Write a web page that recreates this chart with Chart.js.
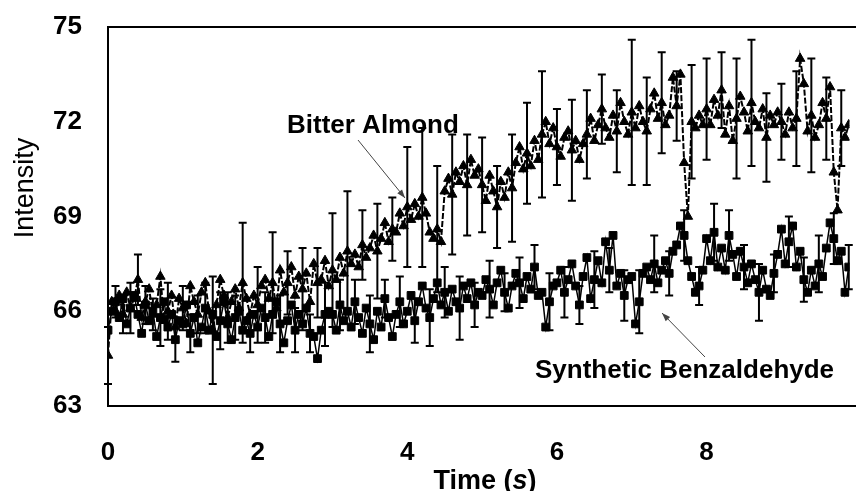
<!DOCTYPE html>
<html>
<head>
  <meta charset="UTF-8">
  <title>Intensity vs Time</title>
  <script src="https://cdn.jsdelivr.net/npm/chart.js"></script>
  <style>
    body { margin: 0; background: #fff; overflow: hidden; }
    canvas { display: block; }
  </style>
</head>
<body>
  <canvas id="chart" width="856" height="491"></canvas>

  <script>
    // sampling interval of both traces (s)
    const DT = 0.05;

    // Bitter Almond trace (triangles), one row per second
    const ALMOND = [
      64.6, 66.3, 66.0, 66.5, 65.9, 66.6, 66.1, 66.4, 67.0, 65.8, 66.3, 66.7, 65.9, 66.2, 67.1, 65.7, 66.0, 66.5, 65.5, 66.4,
      66.1, 65.6, 66.8, 66.3, 65.9, 66.6, 66.9, 66.0, 65.4, 66.2, 67.0, 66.5, 65.8, 66.3, 66.7, 66.1, 66.9, 66.4, 65.9, 66.5,
      66.2, 66.8, 67.0, 66.4, 66.9, 66.1, 67.3, 66.6, 66.9, 67.4, 66.5, 67.1, 66.7, 67.2, 66.3, 67.5, 66.9, 67.0, 67.6, 66.8,
      67.3, 67.0, 67.7, 67.2, 67.9, 67.5, 67.8, 67.4, 68.1, 67.7, 68.0, 68.4, 67.9, 68.3, 68.8, 68.2, 68.6, 68.5, 69.1, 68.7,
      69.3, 68.9, 69.4, 69.0, 69.6, 69.1, 68.5, 68.3, 68.6, 68.2, 69.8, 70.2, 69.7, 70.4, 70.1, 70.6, 70.0, 70.8, 70.3, 70.5,
      70.0, 69.5, 70.3, 69.8, 69.3, 70.1, 69.6, 70.4, 69.9, 70.7, 71.2, 70.5, 71.0, 70.6, 71.4, 70.8, 71.6, 72.0, 71.3, 71.8,
      71.2, 70.9, 71.5, 71.7, 71.1, 71.4, 70.8, 71.3, 71.6, 72.1, 71.4, 71.9, 72.4, 71.8, 71.5, 72.2, 71.7, 72.6, 72.0, 71.6,
      72.3, 71.8, 72.5, 72.0, 71.7, 72.4, 72.9, 72.1, 72.6, 71.9, 72.2, 73.4, 72.5, 73.5, 70.7, 69.0, 72.0, 71.8, 72.2, 71.9,
      72.4, 71.9, 72.7, 72.2, 73.0, 71.6, 72.5, 71.4, 72.1, 72.8, 72.3, 71.7, 72.6, 72.0, 71.8, 72.4, 71.5, 72.2, 71.9, 72.3,
      72.0, 71.6, 72.3, 71.8, 72.1, 74.0, 73.2, 71.7, 72.2, 71.5, 71.9, 72.6, 72.1, 73.1, 70.4, 69.2, 71.8, 71.5, 71.9
    ];

    // Synthetic Benzaldehyde trace (squares)
    const BENZ = [
      65.4, 66.0, 66.3, 65.8, 66.4, 65.6, 66.1, 66.5, 65.9, 65.3, 66.2, 65.7, 66.0, 65.2, 65.8, 66.3, 65.5, 65.9, 65.1, 65.7,
      65.6, 66.2, 65.3, 65.8, 65.0, 65.5, 66.1, 65.4, 65.9, 65.2, 65.7, 66.3, 65.6, 65.1, 65.8, 66.0, 65.4, 65.7, 65.3, 65.9,
      65.5, 66.1, 65.8, 65.2, 65.9, 66.3, 65.6, 65.0, 65.7, 66.2, 65.4, 65.9, 65.6, 66.1, 65.3, 65.2, 64.5, 65.4, 65.9, 66.0,
      65.9, 65.4, 66.2, 65.7, 66.0, 65.5, 66.3, 65.8, 65.3, 66.1, 65.6, 65.1, 66.0, 65.5, 66.4, 65.8, 65.2, 65.9, 66.3, 65.6,
      66.0, 66.5, 65.7, 66.3, 66.8, 66.1, 65.8, 66.4, 66.9, 66.2, 66.6, 66.0, 66.7, 66.3, 66.1, 66.8, 66.4, 66.9, 66.2, 66.6,
      66.5, 67.0, 66.7, 66.2, 66.9, 67.3, 66.6, 66.1, 66.8, 67.2, 66.9, 66.4, 67.1, 66.7, 67.4, 66.5, 66.6, 65.5, 66.3, 66.8,
      66.9, 67.3, 66.6, 67.0, 67.5, 66.8, 66.2, 67.1, 67.7, 66.4, 67.0, 67.6, 66.9, 68.2, 67.3, 68.4, 66.8, 67.2, 66.5, 67.0,
      67.1, 65.6, 66.3, 67.2, 67.4, 67.0, 67.5, 66.9, 67.3, 67.6, 67.2, 67.9, 68.1, 68.7, 68.4, 67.6, 67.1, 66.6, 66.8, 67.3,
      68.3, 67.6, 68.5, 67.4, 68.0, 67.3, 68.4, 67.8, 67.1, 67.9, 67.4, 66.9, 67.5, 67.0, 66.6, 67.3, 66.7, 66.5, 67.2, 67.8,
      68.6, 67.5, 68.2, 68.7, 67.4, 67.9, 67.0, 66.6, 67.3, 66.8, 67.5, 67.1, 68.0, 68.8, 68.3, 67.6, 67.9, 66.6, 67.4
    ];

    // error bar half-lengths, one on every 4th sample (almond from sample 0, benz from sample 2)
    const ERR_EVERY = 4;
    const ALMOND_ERR_FIRST = 0;
    const BENZ_ERR_FIRST = 2;
    const ALMOND_ERR = [
      0.9, 0.6, 0.8, 0.5, 0.9, 0.7, 0.6, 1.7, 0.8, 1.9,
      1.2, 1.6, 1.0, 1.3, 1.1, 1.8, 1.9, 1.1, 1.5, 1.0,
      1.9, 2.2, 2.0, 1.9, 1.6, 1.5, 1.3, 1.7, 1.6, 2.0,
      1.2, 1.6, 1.4, 1.1, 1.3, 2.3, 1.7, 1.6, 1.1, 1.8,
      1.6, 1.2, 1.9, 2.0, 1.4, 1.2, 1.5, 1.8, 1.3, 1.2
    ];
    const BENZ_ERR = [
      0.5, 0.8, 0.6, 0.9, 0.7, 0.6, 0.8, 0.9, 0.7, 0.6,
      0.8, 0.9, 0.7, 0.6, 1.0, 0.8, 0.7, 0.9, 0.6, 0.8,
      0.7, 0.9, 0.8, 1.0, 0.7, 0.9, 0.6, 0.8, 0.7, 0.9,
      0.8, 0.6, 0.9, 0.7, 0.8, 1.0, 0.9, 0.7, 0.8, 0.6,
      0.9, 0.8, 0.7, 0.9, 0.6, 0.8, 0.7, 0.9, 0.8, 0.7
    ];

    const X_TICKS = [0, 2, 4, 6, 8];
    const Y_TICKS = [63, 66, 69, 72, 75];
    const X_MAX = 9.91;   // the figure is cropped just before 10 s

    const FONT = 'Liberation Sans, Arial, sans-serif';

    const toPoints = arr => arr.map((v, i) => ({ x: +(i * DT).toFixed(2), y: v }));

    // frame (top, left, bottom), error bars, axis titles and annotations
    const extras = {
      id: 'extras',
      afterDatasetsDraw(chart) {
        const ctx = chart.ctx;
        const xs = chart.scales.x, ys = chart.scales.y;
        const bars = [[ALMOND, ALMOND_ERR, ALMOND_ERR_FIRST], [BENZ, BENZ_ERR, BENZ_ERR_FIRST]];
        ctx.save();
        ctx.strokeStyle = '#000';
        ctx.lineWidth = 2;
        bars.forEach(([vals, errs, first]) => {
          errs.forEach((e, k) => {
            const i = first + k * ERR_EVERY;
            if (i >= vals.length) return;
            const px = xs.getPixelForValue(i * DT);
            const top = ys.getPixelForValue(vals[i] + e);
            const bot = ys.getPixelForValue(vals[i] - e);
            ctx.beginPath();
            ctx.moveTo(px, top); ctx.lineTo(px, bot);
            ctx.moveTo(px - 4, top); ctx.lineTo(px + 4, top);
            ctx.moveTo(px - 4, bot); ctx.lineTo(px + 4, bot);
            ctx.stroke();
          });
        });
        ctx.restore();
      },
      afterDraw(chart) {
        const ctx = chart.ctx;
        const a = chart.chartArea;
        ctx.save();
        // frame
        ctx.strokeStyle = '#000';
        ctx.lineWidth = 2;
        ctx.beginPath();
        ctx.moveTo(chart.width, a.top);
        ctx.lineTo(a.left, a.top);
        ctx.lineTo(a.left, a.bottom);
        ctx.lineTo(chart.width, a.bottom);
        ctx.stroke();

        ctx.fillStyle = '#000';
        // y title
        ctx.save();
        ctx.translate(33, 188);
        ctx.rotate(-Math.PI / 2);
        ctx.font = '27px ' + FONT;
        ctx.textAlign = 'center';
        ctx.textBaseline = 'alphabetic';
        ctx.fillText('Intensity', 0, 0);
        ctx.restore();

        // x title, with italic s
        const parts = [['Time (', 'bold 27px '], ['s', 'italic bold 27px '], [')', 'bold 27px ']];
        let total = 0;
        parts.forEach(p => { ctx.font = p[1] + FONT; total += ctx.measureText(p[0]).width; });
        let x = 485 - total / 2;
        ctx.textAlign = 'left';
        ctx.textBaseline = 'alphabetic';
        parts.forEach(p => {
          ctx.font = p[1] + FONT;
          ctx.fillText(p[0], x, 489);
          x += ctx.measureText(p[0]).width;
        });

        // annotations
        ctx.font = 'bold 26px ' + FONT;
        ctx.fillText('Bitter Almond', 287, 133);
        ctx.fillText('Synthetic Benzaldehyde', 535, 378);
        arrow(ctx, 358, 140, 405, 198);
        arrow(ctx, 705, 357, 662, 313);
        ctx.restore();
      }
    };

    function arrow(ctx, x1, y1, x2, y2) {
      const ang = Math.atan2(y2 - y1, x2 - x1);
      ctx.strokeStyle = '#444';
      ctx.fillStyle = '#444';
      ctx.lineWidth = 1;
      ctx.beginPath();
      ctx.moveTo(x1, y1);
      ctx.lineTo(x2, y2);
      ctx.stroke();
      ctx.beginPath();
      ctx.moveTo(x2, y2);
      ctx.lineTo(x2 - 9 * Math.cos(ang - 0.35), y2 - 9 * Math.sin(ang - 0.35));
      ctx.lineTo(x2 - 9 * Math.cos(ang + 0.35), y2 - 9 * Math.sin(ang + 0.35));
      ctx.closePath();
      ctx.fill();
    }

    new Chart(document.getElementById('chart'), {
      type: 'line',
      data: {
        datasets: [
          {
            label: 'Bitter Almond',
            data: toPoints(ALMOND),
            borderColor: '#000',
            borderWidth: 2,
            borderDash: [6, 2],
            pointStyle: 'triangle',
            pointRadius: 5.5,
            pointBackgroundColor: '#000',
            pointBorderColor: '#000',
            pointBorderWidth: 1,
            tension: 0
          },
          {
            label: 'Synthetic Benzaldehyde',
            data: toPoints(BENZ),
            borderColor: '#000',
            borderWidth: 1.5,
            pointStyle: 'rect',
            pointRadius: 5.5,
            pointBackgroundColor: '#000',
            pointBorderColor: '#000',
            pointBorderWidth: 1,
            tension: 0
          }
        ]
      },
      options: {
        responsive: false,
        animation: false,
        devicePixelRatio: 1,
        layout: { padding: { top: 27, right: 0, left: 0, bottom: 0 } },
        plugins: { legend: { display: false }, tooltip: { enabled: false } },
        scales: {
          x: {
            type: 'linear',
            min: 0,
            max: X_MAX,
            grid: { display: false, drawTicks: false },
            border: { display: false },
            afterBuildTicks: s => { s.ticks = X_TICKS.map(v => ({ value: v })); },
            afterFit: s => { s.height = 85; s.paddingLeft = 0; s.paddingRight = 0; },
            ticks: {
              padding: 31,
              color: '#000',
              maxRotation: 0,
              autoSkip: false,
              font: { family: FONT, size: 26, weight: 'bold' }
            }
          },
          y: {
            min: 63,
            max: 75,
            grid: { display: false, drawTicks: false },
            border: { display: false },
            afterBuildTicks: s => { s.ticks = Y_TICKS.map(v => ({ value: v })); },
            afterFit: s => { s.width = 108; s.paddingTop = 0; s.paddingBottom = 0; },
            ticks: {
              padding: 26,
              color: '#000',
              font: { family: FONT, size: 26, weight: 'bold' }
            }
          }
        }
      },
      plugins: [extras]
    });
  </script>
</body>
</html>
